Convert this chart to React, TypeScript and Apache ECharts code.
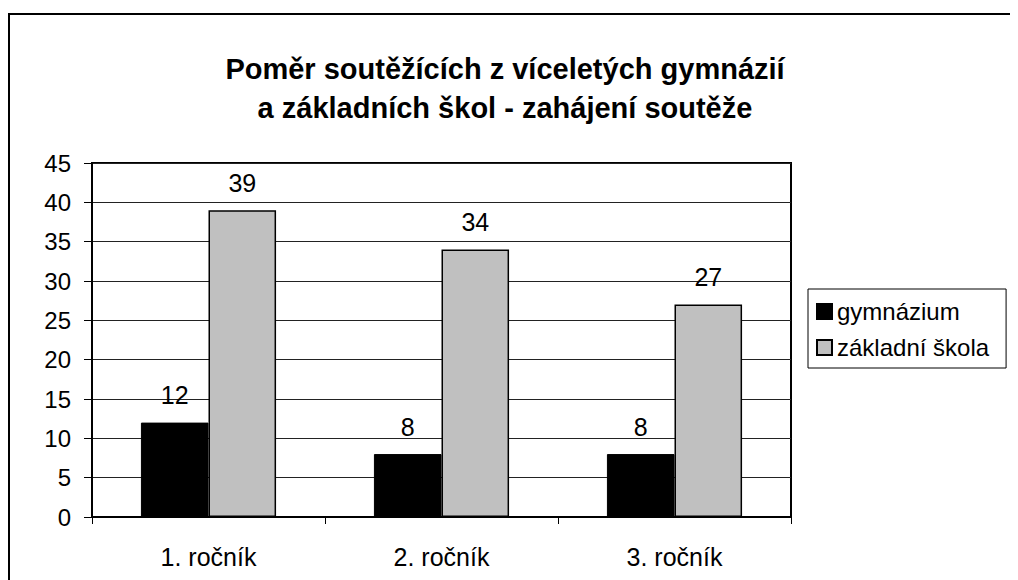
import React, { useEffect, useRef } from "react";
import * as echarts from "echarts";

const categories = ["1. ročník", "2. ročník", "3. ročník"];
const gymnazium = [12, 8, 8];
const zakladniSkola = [39, 34, 27];
const titleLines = ["Poměr soutěžících z víceletých gymnázií", "a základních škol - zahájení soutěže"];

const FONT = "'Liberation Sans', Arial, sans-serif";

export default function App() {
  const ref = useRef<HTMLDivElement>(null);
  useEffect(() => {
    if (!ref.current) return;
    const chart = echarts.init(ref.current, null, { renderer: "svg" });
    chart.setOption({
      animation: false,
      backgroundColor: "#fff",
      title: {
        text: titleLines.join("\n"),
        left: 492,
        top: 36,
        textAlign: "center",
        textStyle: {
          fontFamily: FONT,
          fontSize: 29,
          fontWeight: "bold",
          color: "#000",
          lineHeight: 39,
        },
      },
      graphic: [
        {
          type: "rect",
          shape: { x: 1, y: 6, width: 1100, height: 700 },
          style: { fill: "none", stroke: "#000", lineWidth: 2 },
          silent: true,
          z: 100,
        },
      ],
      legend: {
        orient: "vertical",
        left: 800,
        top: 281,
        padding: [10, 17, 8, 8],
        itemGap: 11,
        itemWidth: 15,
        itemHeight: 15,
        borderColor: "#000",
        borderWidth: 1,
        icon: "rect",
        textStyle: { fontFamily: FONT, fontSize: 24, color: "#000", lineHeight: 25 },
        data: ["gymnázium", "základní škola"],
      },
      grid: {
        left: 84,
        top: 155,
        width: 699,
        height: 354,
        show: true,
        borderColor: "#000",
        borderWidth: 2,
        containLabel: false,
      },
      xAxis: {
        type: "category",
        data: categories,
        axisLine: { show: true, lineStyle: { color: "#000", width: 2 } },
        axisTick: { show: true, alignWithLabel: false, length: 7, lineStyle: { color: "#000" } },
        axisLabel: { fontFamily: FONT, fontSize: 25, color: "#000", margin: 27 },
      },
      yAxis: {
        type: "value",
        min: 0,
        max: 45,
        interval: 5,
        axisLine: { show: true, lineStyle: { color: "#000", width: 2 } },
        axisTick: { show: true, length: 8, lineStyle: { color: "#000" } },
        axisLabel: { fontFamily: FONT, fontSize: 24, color: "#000", margin: 21 },
        splitLine: { show: true, lineStyle: { color: "#222", width: 1 } },
      },
      series: [
        {
          name: "gymnázium",
          type: "bar",
          data: gymnazium,
          barGap: "0%",
          barCategoryGap: "42%",
          itemStyle: { color: "#000", borderColor: "#000", borderWidth: 1 },
          label: {
            show: true,
            position: "top",
            distance: 15,
            fontFamily: FONT,
            fontSize: 25,
            color: "#000",
          },
        },
        {
          name: "základní škola",
          type: "bar",
          data: zakladniSkola,
          itemStyle: { color: "#c0c0c0", borderColor: "#000", borderWidth: 1.5 },
          label: {
            show: true,
            position: "top",
            distance: 15,
            fontFamily: FONT,
            fontSize: 25,
            color: "#000",
          },
        },
      ],
    });
    return () => chart.dispose();
  }, []);
  return <div ref={ref} style={{ width: 1010, height: 572 }} />;
}
